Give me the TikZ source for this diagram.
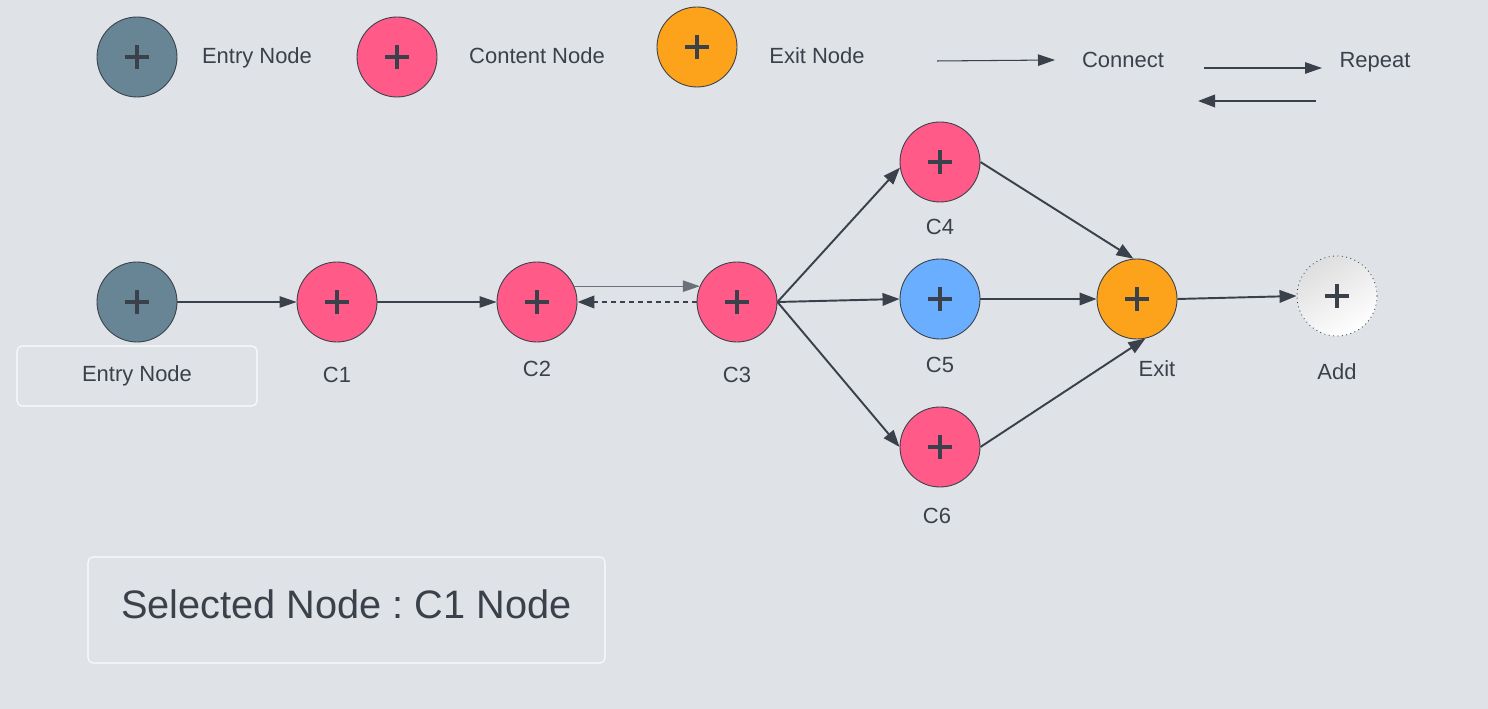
\documentclass[tikz,border=0pt]{standalone}
\usepackage{fontspec}
\setmainfont{Liberation Sans}
\usetikzlibrary{arrows.meta}
\frenchspacing

\definecolor{bgcol}{HTML}{DFE3E8}
\definecolor{ink}{HTML}{3A414A}
\definecolor{entrycol}{HTML}{688596}
\definecolor{contentcol}{HTML}{FF5A88}
\definecolor{exitcol}{HTML}{FCA21B}
\definecolor{bluecol}{HTML}{6AAFFF}
\definecolor{greyline}{HTML}{6B7079}

\tikzset{
  plus/.style={path picture={
    \draw[ink,solid,line width=2.2pt]
      (path picture bounding box.center) ++(-0.24,0) -- ++(0.48,0)
      (path picture bounding box.center) ++(0,-0.24) -- ++(0,0.48);}},
  vertex/.style={circle,draw=ink,line width=0.5pt,minimum size=1.6cm,inner sep=0pt,plus},
  lbl/.style={text=ink,font=\fontsize{12.5}{15}\selectfont},
  conn/.style={draw=ink,line width=0.6pt,-{Triangle[length=0.34cm,width=0.23cm]}},
  connbold/.style={draw=ink,line width=1.1pt,-{Triangle[length=0.34cm,width=0.25cm]}},
  infobox/.style={draw=white!90!bgcol,line width=0.6pt,rounded corners=0.1cm}
}

\begin{document}
\begin{tikzpicture}

\fill[bgcol] (0,0) rectangle (29.76,14.18);
\useasboundingbox (0,0) rectangle (29.76,14.18);

% legend
\node [vertex, fill=entrycol] (lentry) at (2.74,13.04) {};
\node [lbl] (lentrytxt) at (5.14,13.02) {Entry Node};
\node [vertex, fill=contentcol] (lcontent) at (7.94,13.04) {};
\node [lbl] (lcontenttxt) at (10.74,13.06) {Content Node};
\node [vertex, fill=exitcol] (lexit) at (13.94,13.24) {};
\node [lbl] (lexittxt) at (16.34,13.06) {Exit Node};

\coordinate (lc1) at (18.74,12.96);
\coordinate (lc2) at (21.10,12.98);
\draw [conn] (lc1) -- (lc2);
\node [lbl] (lconnect) at (22.46,12.99) {Connect};

\coordinate (lr1) at (24.08,12.82);
\coordinate (lr2) at (26.44,12.82);
\coordinate (lr3) at (26.32,12.16);
\coordinate (lr4) at (23.96,12.16);
\draw [conn] (lr1) -- (lr2);
\draw [connbold] (lr3) -- (lr4);
\node [lbl] (lrepeat) at (27.5,12.94) {Repeat};

% nodes
\node [vertex, fill=entrycol] (entry) at (2.74,8.14) {};
\node [vertex, fill=contentcol] (c1) at (6.74,8.14) {};
\node [vertex, fill=contentcol] (c2) at (10.74,8.14) {};
\node [vertex, fill=contentcol] (c3) at (14.74,8.14) {};
\node [vertex, fill=contentcol] (c4) at (18.8,10.94) {};
\node [vertex, fill=bluecol] (c5) at (18.8,8.2) {};
\node [vertex, fill=contentcol] (c6) at (18.8,5.24) {};
\node [vertex, fill=exitcol] (exit) at (22.74,8.2) {};
\node [vertex, draw=ink, dotted, shade, top color=black!13, bottom color=white,
       shading angle=30] (add) at (26.74,8.26) {};

% labels
\draw [infobox] (0.34,6.06) rectangle (5.14,7.26);
\node [lbl] (entrytxt) at (2.74,6.66) {Entry Node};
\node [lbl] (c1txt) at (6.74,6.68) {C1};
\node [lbl] (c2txt) at (10.74,6.8) {C2};
\node [lbl] (c3txt) at (14.74,6.68) {C3};
\node [lbl] (c4txt) at (18.8,9.64) {C4};
\node [lbl] (c5txt) at (18.8,6.88) {C5};
\node [lbl] (c6txt) at (18.74,3.86) {C6};
\node [lbl] (exittxt) at (23.14,6.8) {Exit};
\node [lbl] (addtxt) at (26.74,6.74) {Add};

% edges
\draw [conn] (entry) -- (c1);
\draw [conn] (c1) -- (c2);
\draw [conn, draw=greyline] (c2.23) -- (c3.157);
\draw [connbold, line width=1.4pt, dash pattern=on 0.09cm off 0.09cm] (c3.west) -- (c2.east);
\draw [connbold] (c3.east) -- (c4.188);
\draw [connbold] (c3.east) -- (c5.west);
\draw [connbold] (c3.east) -- (c6.west);
\draw [connbold] (c4.east) -- (exit.95);
\draw [connbold] (c5.east) -- (exit.west);
\draw [connbold] (c6.east) -- (exit.-78);
\draw [connbold] (exit.east) -- (add.west);

% selected
\draw [infobox] (1.76,0.92) rectangle (12.1,3.04);
\node [text=ink, font=\fontsize{22.6}{27}\selectfont] (seltxt) at (6.93,2.1) {Selected Node : C1 Node};

\end{tikzpicture}
\end{document}
